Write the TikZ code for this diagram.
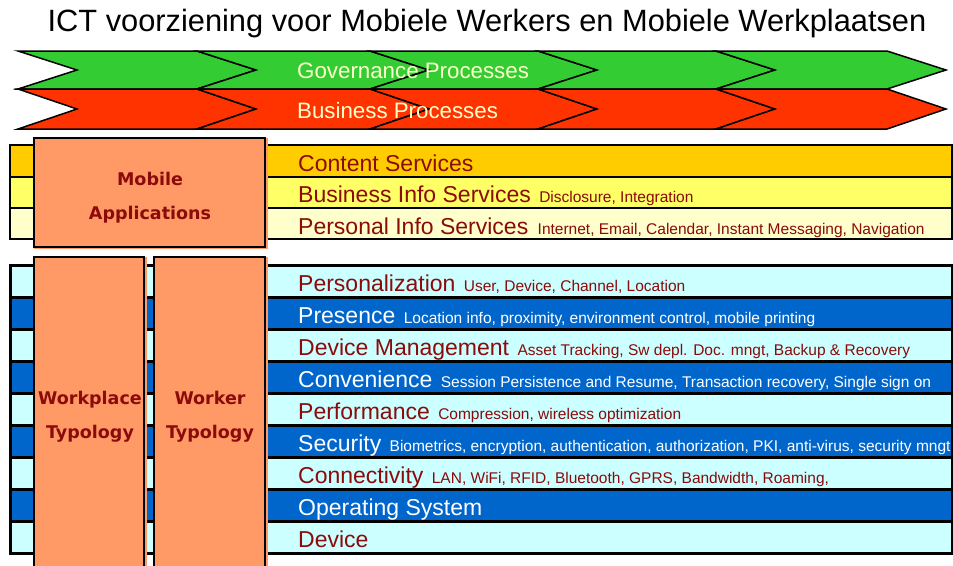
\documentclass[tikz,border=0pt]{standalone}
\usepackage{fontspec}
\setmainfont{Liberation Sans}
\newfontfamily\boxfont{DejaVu Sans}
\definecolor{govgreen}{HTML}{33CC33}
\definecolor{busred}{HTML}{FF3300}
\definecolor{cream}{HTML}{FFFFCC}
\definecolor{content}{HTML}{FFCC00}
\definecolor{bizinfo}{HTML}{FFFF66}
\definecolor{persinfo}{HTML}{FFFFCC}
\definecolor{lcyan}{HTML}{CCFFFF}
\definecolor{dblue}{HTML}{0066CC}
\definecolor{salmon}{HTML}{FF9966}
\definecolor{dred}{HTML}{8B0A0A}
\begin{document}
\begin{tikzpicture}[x=1pt,y=-1pt,
  chev/.style={draw=black,line width=1.5pt,line join=miter},
  band/.style={draw=black,line width=2.2pt},
  thickband/.style={draw=black,line width=3pt},
  lbl/.style={anchor=base west,inner sep=0pt,font=\fontsize{23}{27}\selectfont},
  note/.style={anchor=base west,inner sep=0pt,font=\fontsize{15.5}{18}\selectfont},
  chevtext/.style={inner sep=0pt,text=cream,font=\fontsize{22.3}{26}\selectfont},
  boxtext/.style={inner sep=0pt,text=dred,font=\boxfont\bfseries\fontsize{17.5}{34}\selectfont,align=center},
  orangebox/.style={draw=black,line width=1.3pt,fill=salmon}]
\useasboundingbox (0,0) rectangle (953,565);
\fill[white] (0,0) rectangle (953,565);

% title
\node[inner sep=0pt,font=\fontsize{30.8}{36}\selectfont] (title) at (487,24) {ICT voorziening voor Mobiele Werkers en Mobiele Werkplaatsen};

% process arrows: two rows of chained chevrons
\def\tip{59}
\foreach \t/\b/\c in {51/89/govgreen, 89/129/busred}{
  \pgfmathsetmacro{\m}{(\t+\b)/2}
  \foreach \xa/\xb in {18/197,197/370,370/538,538/716,716/887}{
    \draw[chev,fill=\c] (\xa,\t) -- (\xb,\t) -- (\xb+\tip,\m) -- (\xb,\b)
      -- (\xa,\b) -- (\xa+\tip,\m) -- cycle;
  }
}
\node[chevtext,anchor=base west] (gov) at (297,78) {Governance Processes};
\node[chevtext,anchor=base west] (bus) at (297,118) {Business Processes};

% service layers
\foreach \t/\b/\fc/\i in {145/177/content/1,177/208/bizinfo/2,208/239/persinfo/3}{
  \draw[band,fill=\fc] (10,\t) rectangle (952,\b);
}
\node[lbl,text=dred] (svc1) at (298,171) {Content Services};
\node[lbl,text=dred] (svc2) at (298,202) {Business Info Services};
\node[note,text=dred] at ([xshift=8pt]svc2.base east) {Disclosure, Integration};
\node[lbl,text=dred] (svc3) at (298,234) {Personal Info Services};
\node[note,text=dred] at ([xshift=9pt]svc3.base east) {Internet, Email, Calendar, Instant Messaging, Navigation};

% infrastructure layers
\foreach \i/\fc/\tc/\main/\sub in {
  0/lcyan/dred/{Personalization}/{User, Device, Channel, Location},
  1/dblue/white/{Presence}/{Location info, proximity, environment control, mobile printing},
  2/lcyan/dred/{Device Management}/{Asset Tracking, Sw depl. Doc. mngt, Backup \& Recovery},
  3/dblue/white/{Convenience}/{Session Persistence and Resume, Transaction recovery, Single sign on},
  4/lcyan/dred/{Performance}/{Compression, wireless optimization},
  5/dblue/white/{Security}/{Biometrics, encryption, authentication, authorization, PKI, anti-virus, security mngt},
  6/lcyan/dred/{Connectivity}/{LAN, WiFi, RFID, Bluetooth, GPRS, Bandwidth, Roaming,},
  7/dblue/white/{Operating System}/{},
  8/lcyan/dred/{Device}/{}}{
  \pgfmathsetmacro{\top}{265+32*\i}
  \draw[thickband,fill=\fc] (10,\top) rectangle (952,\top+32);
  \node[lbl,text=\tc] (layer\i) at (298,\top+26) {\main};
  \node[note,text=\tc] (layernote\i) at ([xshift=8pt]layer\i.base east) {\sub};
}

% vertical application / typology columns
\fill[salmon] (34,138) rectangle (268,249);
\draw[orangebox] (34,138) rectangle (265,247);
\node[boxtext] (mobapp) at (150,198) {Mobile\\Applications};

\fill[salmon] (34,257) rectangle (147,566);
\draw[orangebox] (34,257) rectangle (144,570);
\node[boxtext] (workplace) at (90,417) {Workplace\\Typology};

\fill[salmon] (154,257) rectangle (268,566);
\draw[orangebox] (154,257) rectangle (265,570);
\node[boxtext] (worker) at (210,417) {Worker\\Typology};
\end{tikzpicture}
\end{document}
